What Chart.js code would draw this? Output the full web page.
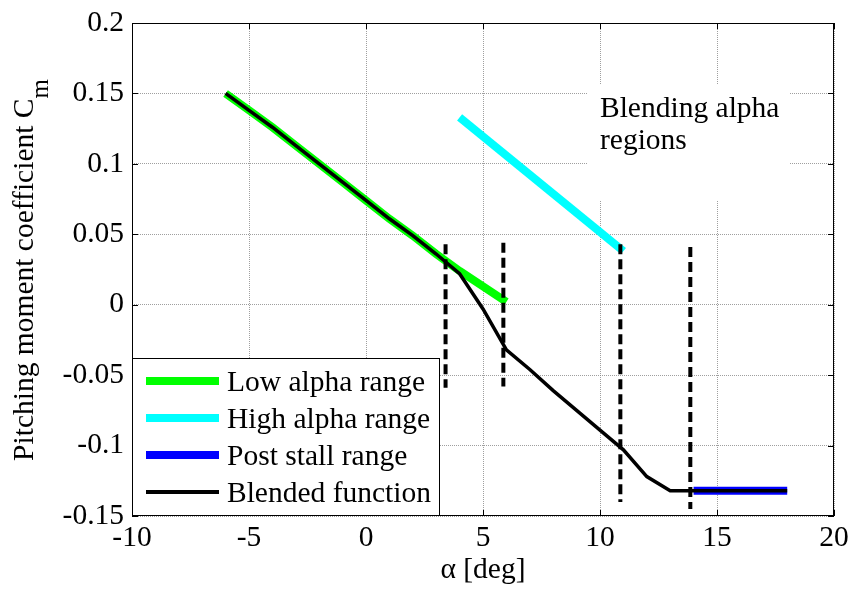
<!DOCTYPE html>
<html>
<head>
<meta charset="utf-8">
<script src="https://cdn.jsdelivr.net/npm/chart.js@4.4.1/dist/chart.umd.min.js"></script>
<style>
  html, body { margin: 0; padding: 0; background: #fff; }
  #wrap { width: 852px; height: 589px; }
</style>
</head>
<body>
<div id="wrap"><canvas id="chart"></canvas></div>
<script>
const FONT = "'Liberation Serif', 'Times New Roman', serif";
const FS = 29.5;

// values
const lowAlpha = [-6, -5, -4, -3, -2, -1, 0, 1, 2, 3, 4, 5, 6];
const lowCm = [0.150, 0.138, 0.126, 0.113, 0.100, 0.087, 0.074, 0.061, 0.049, 0.036, 0.024, 0.013, 0.002];
const highAlpha = [4, 11];
const highCm = [0.133, 0.038];
const postAlpha = [14, 18];
const postCm = [-0.132, -0.132];
const blendAlpha = [-6, -5, -4, -3, -2, -1, 0, 1, 2, 3, 4, 5, 6, 7, 8, 9, 10, 11, 12, 13, 14, 15, 16, 17, 18];
const blendCm = [0.150, 0.138, 0.126, 0.113, 0.100, 0.087, 0.074, 0.061, 0.049, 0.036, 0.022, -0.003, -0.032,
                 -0.046, -0.061, -0.075, -0.089, -0.103, -0.122, -0.132, -0.132, -0.132, -0.132, -0.132, -0.132];
// dashed markers of the blending regions
const regionAlpha = [3.4, 5.87, 10.87, 13.86];
const regionTop = [0.043, 0.044, 0.043, 0.041];
const regionBottom = [-0.059, -0.058, -0.140, -0.145];

const xTickLabels = ['-10', '-5', '0', '5', '10', '15', '20'];
const yTickLabels = ['-0.15', '-0.1', '-0.05', '0', '0.05', '0.1', '0.15', '0.2'];

const legendLabels = ['Low alpha range', 'High alpha range', 'Post stall range', 'Blended function'];
const noteLines = ['Blending alpha', 'regions'];

const pts = (xs, ys) => xs.map((x, i) => ({ x, y: ys[i] }));

function lineSet(label, xs, ys, color, width, order) {
    return {
        label, data: pts(xs, ys), borderColor: color, borderWidth: width,
        pointRadius: 0, tension: 0, fill: false, order,
        borderCapStyle: 'butt', borderJoinStyle: 'miter',
    };
}

const datasets = [
    lineSet(legendLabels[0], lowAlpha, lowCm, '#00ff00', 8, 5),
    lineSet(legendLabels[1], highAlpha, highCm, '#00ffff', 8, 5),
    lineSet(legendLabels[2], postAlpha, postCm, '#0000ff', 8, 4),
    lineSet(legendLabels[3], blendAlpha, blendCm, '#000000', 3.5, 2),
];
regionAlpha.forEach((a, i) => {
    const ds = lineSet('region', [a, a], [regionTop[i], regionBottom[i]], '#000000', 4, 1);
    ds.borderDash = [10, 5];
    datasets.push(ds);
});

const framePlugin = {
    id: 'frame',
    beforeDatasetsDraw(chart) {
        // white background behind the note
        const ctx = chart.ctx;
        ctx.save();
        ctx.fillStyle = '#fff';
        ctx.fillRect(587, 85, 203, 115);
        ctx.restore();
    },
    afterDraw(chart) {
        const { ctx, chartArea: a, scales } = chart;
        ctx.save();

        // note text
        ctx.fillStyle = '#000';
        ctx.font = FS + 'px ' + FONT;
        ctx.textAlign = 'left';
        ctx.textBaseline = 'alphabetic';
        ctx.fillText(noteLines[0], 600, 117);
        ctx.fillText(noteLines[1], 600, 149);

        // box + inward ticks
        ctx.strokeStyle = '#000';
        ctx.lineWidth = 1;
        ctx.strokeRect(a.left + 0.5, a.top + 0.5, a.right - a.left - 1, a.bottom - a.top - 1);
        const tl = 6;
        ctx.beginPath();
        scales.x.ticks.forEach(t => {
            const px = Math.round(scales.x.getPixelForValue(t.value)) + 0.5;
            ctx.moveTo(px, a.bottom); ctx.lineTo(px, a.bottom - tl);
            ctx.moveTo(px, a.top); ctx.lineTo(px, a.top + tl);
        });
        scales.y.ticks.forEach(t => {
            const py = Math.round(scales.y.getPixelForValue(t.value)) + 0.5;
            ctx.moveTo(a.left, py); ctx.lineTo(a.left + tl, py);
            ctx.moveTo(a.right, py); ctx.lineTo(a.right - tl, py);
        });
        ctx.stroke();

        // legend
        const lx = a.left, ly = 358, lw = 307, lh = a.bottom - 358;
        ctx.fillStyle = '#fff';
        ctx.fillRect(lx, ly, lw, lh);
        ctx.strokeRect(lx + 0.5, ly + 0.5, lw, lh - 1);
        const rows = [381, 418, 455, 492];
        chart.data.datasets.slice(0, 4).forEach((ds, i) => {
            ctx.strokeStyle = ds.borderColor;
            ctx.lineWidth = ds.borderWidth === 8 ? 8 : 4;
            ctx.beginPath();
            ctx.moveTo(146, rows[i]); ctx.lineTo(219, rows[i]);
            ctx.stroke();
            ctx.fillStyle = '#000';
            ctx.font = FS + 'px ' + FONT;
            ctx.fillText(ds.label, 227, rows[i] + 9.5);
        });

        // y axis title with subscript
        ctx.translate(33, 270);
        ctx.rotate(-Math.PI / 2);
        ctx.font = FS + 'px ' + FONT;
        const main = 'Pitching moment coefficient C';
        const wMain = ctx.measureText(main).width;
        ctx.font = '25px ' + FONT;
        const wSub = ctx.measureText('m').width;
        const x0 = -(wMain + wSub) / 2;
        ctx.font = FS + 'px ' + FONT;
        ctx.fillStyle = '#000';
        ctx.fillText(main, x0, 0);
        ctx.font = '25px ' + FONT;
        ctx.fillText('m', x0 + wMain, 15);
        ctx.restore();
    }
};

const gridStyle = {
    color: 'rgba(135,135,135,0.8)', lineWidth: 1, drawTicks: false,
};

new Chart(document.getElementById('chart'), {
    type: 'line',
    data: { datasets },
    options: {
        responsive: true,
        maintainAspectRatio: false,
        animation: false,
        layout: { padding: { top: 23, right: 18, left: 0, bottom: 0 } },
        plugins: { legend: { display: false }, tooltip: { enabled: false } },
        scales: {
            x: {
                type: 'linear', min: -10, max: 20,
                ticks: {
                    stepSize: 5, padding: 5, color: '#000',
                    font: { family: FONT, size: FS },
                    callback: (v, i) => xTickLabels[i],
                },
                grid: gridStyle,
                border: { display: false, dash: [1, 1] },
                title: {
                    display: true, text: 'α [deg]', color: '#000',
                    font: { family: FONT, size: FS }, padding: { top: 0, bottom: 1 },
                },
                afterFit: s => { s.height = 73; s.paddingLeft = 0; s.paddingRight = 0; },
            },
            y: {
                type: 'linear', min: -0.15, max: 0.2,
                ticks: {
                    stepSize: 0.05, padding: 8, color: '#000',
                    font: { family: FONT, size: FS },
                    callback: (v, i) => yTickLabels[i],
                },
                grid: gridStyle,
                border: { display: false, dash: [1, 1] },
                afterFit: s => { s.width = 132; s.paddingTop = 0; s.paddingBottom = 0; },
            },
        },
    },
    plugins: [framePlugin],
});
</script>
</body>
</html>
